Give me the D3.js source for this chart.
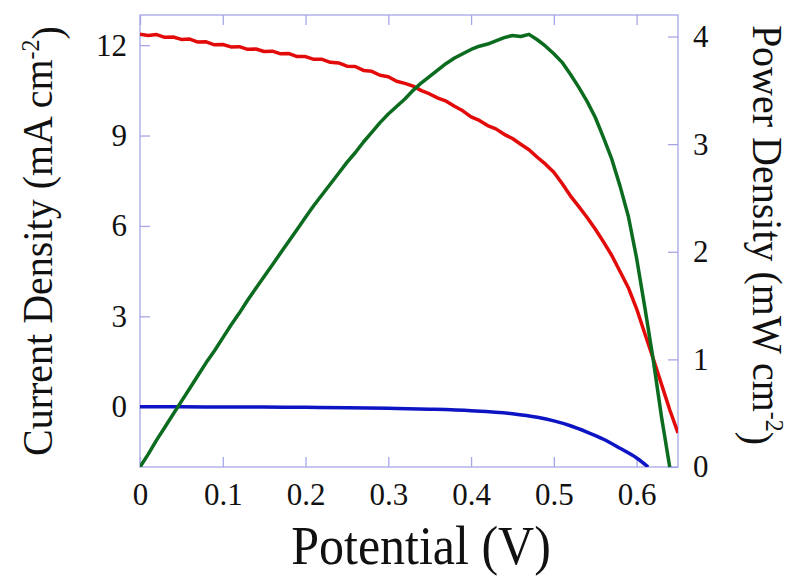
<!DOCTYPE html>
<html>
<head>
<meta charset="utf-8">
<script src="https://cdn.jsdelivr.net/npm/d3@7"></script>
<style>
  body { margin: 0; background: #fff; }
  text { font-family: "Liberation Serif", "DejaVu Serif", serif; fill: #111; }
</style>
</head>
<body>
<div id="graph"></div>
<script>
// potential steps (V) for the two measured curves
const potential = [0.00,0.01,0.02,0.03,0.04,0.05,0.06,0.07,0.08,0.09,
  0.10,0.11,0.12,0.13,0.14,0.15,0.16,0.17,0.18,0.19,
  0.20,0.21,0.22,0.23,0.24,0.25,0.26,0.27,0.28,0.29,
  0.30,0.31,0.32,0.33,0.34,0.35,0.36,0.37,0.38,0.39,
  0.40,0.41,0.42,0.43,0.44,0.45,0.46,0.47,0.48,0.49,
  0.50,0.51,0.52,0.53,0.54,0.55,0.56,0.57,0.58,0.59,
  0.60,0.61,0.62,0.63,0.64,0.65];

// red : current density (mA cm-2), left axis
const currentDensity = [12.36,12.32,12.35,12.26,12.27,12.19,12.20,12.10,12.11,12.01,
  12.02,11.94,11.95,11.86,11.87,11.79,11.80,11.71,11.72,11.62,
  11.62,11.53,11.53,11.43,11.41,11.30,11.29,11.16,11.13,11.00,
  10.95,10.80,10.73,10.64,10.49,10.38,10.24,10.14,9.97,9.82,
  9.62,9.50,9.33,9.22,9.04,8.90,8.71,8.53,8.28,8.05,
  7.78,7.41,7.00,6.65,6.29,5.90,5.47,5.02,4.49,3.95,
  3.25,2.42,1.60,0.75,-0.10,-0.87];

// green : power density (mW cm-2), right axis
const powerDensity = [0.00,0.12,0.25,0.37,0.49,0.61,0.73,0.85,0.97,1.08,
  1.20,1.32,1.43,1.55,1.66,1.77,1.88,1.99,2.10,2.21,
  2.32,2.43,2.53,2.63,2.73,2.83,2.92,3.02,3.11,3.20,
  3.28,3.35,3.42,3.50,3.57,3.63,3.69,3.75,3.80,3.84,
  3.88,3.91,3.93,3.96,3.99,4.01,4.00,4.02,3.97,3.91,
  3.84,3.76,3.65,3.53,3.40,3.25,3.06,2.86,2.61,2.33,
  1.94,1.48,1.00,0.47,0.00];

// blue : dark curve, left axis
const darkPotential = [0.00,0.05,0.10,0.15,0.20,0.25,0.30,0.35,0.40,0.45,0.48,0.50,0.52,0.54,0.56,0.58,0.60,0.614];
const darkCurrent = [0.00,0.00,-0.01,-0.01,-0.02,-0.03,-0.05,-0.08,-0.13,-0.23,-0.35,-0.47,-0.63,-0.84,-1.08,-1.38,-1.70,-2.00];

const xTicks = [0, 0.1, 0.2, 0.3, 0.4, 0.5, 0.6];
const leftTicks = [0, 3, 6, 9, 12];
const rightTicks = [0, 1, 2, 3, 4];

const margin = { top: 15, right: 115, bottom: 109, left: 140 };
const W = 793, H = 576;
const width = W - margin.left - margin.right;
const height = H - margin.top - margin.bottom;
const frameColor = "#a6a6e6";

const svg = d3.select("#graph")
  .append("svg")
  .attr("width", W)
  .attr("height", H);

const g = svg.append("g")
  .attr("transform", `translate(${margin.left},${margin.top})`);

const x = d3.scaleLinear().domain([0, 0.65]).range([0, width]);
const yL = d3.scaleLinear().domain([-2, 13]).range([height, 0]);
const yR = d3.scaleLinear().domain([0, 4.2]).range([height, 0]);

g.append("clipPath").attr("id", "clip")
  .append("rect").attr("width", width).attr("height", height);

// axes, ticks pointing inward
function styleAxis(sel) {
  sel.select(".domain").remove();
  sel.selectAll(".tick line").attr("stroke", frameColor).attr("stroke-width", 1.3);
  sel.selectAll(".tick text").style("font-size", "31px").attr("fill", "#111");
}

g.append("g")
  .attr("transform", `translate(0,${height})`)
  .call(d3.axisBottom(x).tickValues(xTicks).tickSizeInner(-10).tickPadding(16)
    .tickFormat(d => d === 0 ? "0" : d3.format(".1f")(d)))
  .call(styleAxis);

g.append("g")
  .call(d3.axisTop(x).tickValues(xTicks).tickSizeInner(-10).tickFormat(""))
  .call(styleAxis);

g.append("g")
  .call(d3.axisLeft(yL).tickValues(leftTicks).tickSizeInner(-10).tickPadding(13))
  .call(styleAxis);

g.append("g")
  .attr("transform", `translate(${width},0)`)
  .call(d3.axisRight(yR).tickValues(rightTicks).tickSizeInner(-10).tickPadding(15)
    .tickFormat(d3.format("d")))
  .call(styleAxis);

g.append("rect")
  .attr("width", width).attr("height", height)
  .attr("fill", "none").attr("stroke", frameColor).attr("stroke-width", 1.3);

// curves
const plot = g.append("g").attr("clip-path", "url(#clip)");

plot.append("path")
  .datum(darkPotential.map((v, i) => [v, darkCurrent[i]]))
  .attr("d", d3.line().x(d => x(d[0])).y(d => yL(d[1])).curve(d3.curveMonotoneX))
  .attr("fill", "none").attr("stroke", "#0c14c4").attr("stroke-width", 3.5);

plot.append("path")
  .datum(potential.map((v, i) => [v, currentDensity[i]]))
  .attr("d", d3.line().x(d => x(d[0])).y(d => yL(d[1])))
  .attr("fill", "none").attr("stroke", "#e30a0a").attr("stroke-width", 3.5)
  .attr("stroke-linejoin", "round");

plot.append("path")
  .datum(powerDensity.map((p, i) => [potential[i], p]))
  .attr("d", d3.line().x(d => x(d[0])).y(d => yR(d[1])))
  .attr("fill", "none").attr("stroke", "#0b6b1f").attr("stroke-width", 3.5)
  .attr("stroke-linejoin", "round");

// titles
function title(sel, main, sup) {
  sel.append("tspan").text(main);
  sel.append("tspan").attr("dy", "-0.5em").style("font-size", "24px").text(sup);
  sel.append("tspan").attr("dy", "0.5em").text(")");
}

svg.append("text")
  .attr("transform", `translate(52,241) rotate(-90) scale(1,1.08)`)
  .attr("text-anchor", "middle")
  .style("font-size", "40px")
  .call(title, "Current Density (mA cm", "-2");

svg.append("text")
  .attr("transform", `translate(753,235) rotate(90) scale(1,1.08)`)
  .attr("text-anchor", "middle")
  .style("font-size", "40px")
  .call(title, "Power Density (mW cm", "-2");

svg.append("text")
  .attr("transform", "translate(421,564) scale(1,1.08)")
  .attr("text-anchor", "middle")
  .style("font-size", "50px")
  .text("Potential (V)");
</script>
</body>
</html>
